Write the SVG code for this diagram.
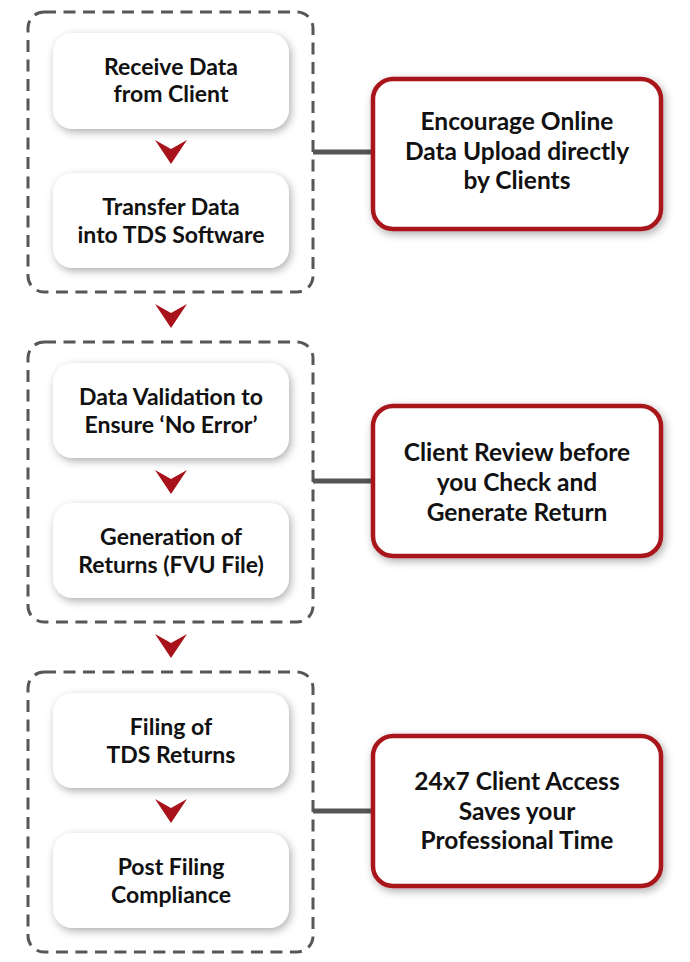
<svg xmlns="http://www.w3.org/2000/svg" width="690" height="962" viewBox="0 0 690 962">
<defs>
<filter id="sh" x="-20%" y="-20%" width="140%" height="150%">
<feDropShadow dx="2" dy="3" stdDeviation="4" flood-color="#000" flood-opacity="0.32"/>
</filter>
<polygon id="chev" points="-16,0 0,9 16,0 0,24" fill="#a8121a"/>
</defs>
<style>
.grp{fill:none;stroke:#575757;stroke-width:3;stroke-dasharray:12 7.5}
.step{fill:#fff;filter:url(#sh)}
.note{fill:#fff;stroke:#a8161b;stroke-width:4.5;filter:url(#sh)}
.conn{stroke:#555;stroke-width:5;fill:none}
text{font-family:Lato,"Open Sans","Liberation Sans",sans-serif;font-weight:700;fill:#111;text-anchor:middle}
.s{font-size:23px}
.n{font-size:24.5px}
</style>
<rect width="690" height="962" fill="#fff"/>

<g id="connectors">
<line class="conn" x1="313" y1="152" x2="374" y2="152"/>
<line class="conn" x1="313" y1="481" x2="374" y2="481"/>
<line class="conn" x1="313" y1="811" x2="374" y2="811"/>
<use href="#chev" x="171" y="140"/>
<use href="#chev" x="171" y="304"/>
<use href="#chev" x="171" y="470"/>
<use href="#chev" x="171" y="634"/>
<use href="#chev" x="171" y="799"/>
</g>

<g id="group1"><rect class="grp" x="28" y="12" width="285" height="280" rx="16"/></g>
<g id="group2"><rect class="grp" x="28" y="342" width="285" height="280" rx="16"/></g>
<g id="group3"><rect class="grp" x="28" y="672" width="285" height="280" rx="16"/></g>

<g id="receive">
<rect class="step" x="53" y="33" width="236" height="96" rx="20"/>
<text class="s" x="171" y="75">Receive Data</text>
<text class="s" x="171" y="102">from Client</text>
</g>
<g id="transfer">
<rect class="step" x="53" y="173" width="236" height="95" rx="20"/>
<text class="s" x="171" y="215">Transfer Data</text>
<text class="s" x="171" y="243">into TDS Software</text>
</g>
<g id="validation">
<rect class="step" x="53" y="363" width="236" height="95" rx="20"/>
<text class="s" x="171" y="405">Data Validation to</text>
<text class="s" x="171" y="433">Ensure ‘No Error’</text>
</g>
<g id="generation">
<rect class="step" x="53" y="503" width="236" height="95" rx="20"/>
<text class="s" x="171" y="545">Generation of</text>
<text class="s" x="171" y="573">Returns (FVU File)</text>
</g>
<g id="filing">
<rect class="step" x="53" y="693" width="236" height="95" rx="20"/>
<text class="s" x="171" y="735">Filing of</text>
<text class="s" x="171" y="763">TDS Returns</text>
</g>
<g id="postfiling">
<rect class="step" x="53" y="833" width="236" height="95" rx="20"/>
<text class="s" x="171" y="875">Post Filing</text>
<text class="s" x="171" y="903">Compliance</text>
</g>

<g id="note1">
<rect class="note" x="373" y="79" width="288" height="150" rx="20"/>
<text class="n" x="517" y="130">Encourage Online</text>
<text class="n" x="517" y="160">Data Upload directly</text>
<text class="n" x="517" y="189">by Clients</text>
</g>
<g id="note2">
<rect class="note" x="373" y="406" width="288" height="150" rx="20"/>
<text class="n" x="517" y="461">Client Review before</text>
<text class="n" x="517" y="491">you Check and</text>
<text class="n" x="517" y="521">Generate Return</text>
</g>
<g id="note3">
<rect class="note" x="373" y="736" width="288" height="150" rx="20"/>
<text class="n" x="517" y="790">24x7 Client Access</text>
<text class="n" x="517" y="820">Saves your</text>
<text class="n" x="517" y="849">Professional Time</text>
</g>
</svg>
